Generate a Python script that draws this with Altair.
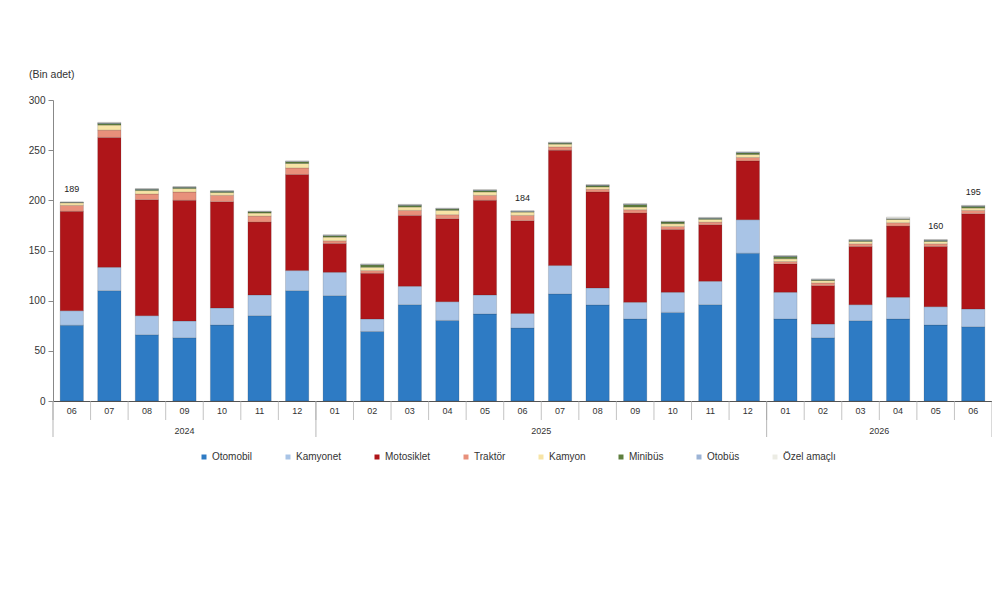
import altair as alt
import pandas as pd

# ---- data (bin adet) ----
months = ["06", "07", "08", "09", "10", "11", "12",
          "01", "02", "03", "04", "05", "06", "07", "08", "09", "10", "11", "12",
          "01", "02", "03", "04", "05", "06"]
years = ["2024"] * 7 + ["2025"] * 12 + ["2026"] * 6

otomobil   = [75.5, 110.0, 66.0, 63.0, 75.7, 85.0, 110.0, 105.0, 69.3, 96.0, 80.3, 86.7, 72.7,
              106.7, 95.7, 81.7, 88.3, 96.0, 147.3, 81.7, 63.0, 80.0, 81.7, 75.7, 74.0]
kamyonet   = [14.5, 23.3, 19.0, 16.7, 17.0, 20.7, 20.0, 23.3, 12.4, 18.3, 18.7, 19.0, 14.6,
              28.3, 17.0, 16.6, 20.0, 23.3, 33.4, 26.6, 13.7, 16.0, 21.6, 18.3, 17.7]
motosiklet = [99.0, 129.4, 115.7, 120.3, 106.0, 72.6, 95.7, 28.7, 45.6, 70.7, 82.7, 94.3, 92.4,
              115.0, 95.6, 89.0, 62.7, 56.4, 58.6, 28.4, 38.3, 58.0, 71.0, 60.0, 95.0]
traktor    = [6.0, 7.3, 5.6, 8.3, 6.3, 6.0, 6.6, 2.7, 2.7, 5.0, 4.0, 5.0, 5.3,
              3.3, 2.7, 3.4, 3.0, 2.6, 3.4, 2.3, 2.7, 2.7, 3.4, 2.7, 3.3]
kamyon     = [2.5, 5.0, 3.4, 3.4, 2.7, 3.0, 4.4, 3.6, 3.3, 3.3, 4.3, 3.3, 3.3,
              2.7, 2.3, 2.6, 2.7, 2.7, 3.0, 2.7, 2.3, 2.3, 3.3, 2.3, 2.3]
minibus    = [0.4, 1.6, 1.2, 1.2, 1.2, 1.2, 1.6, 1.4, 2.2, 1.7, 1.3, 1.4, 0.4,
              1.0, 1.4, 2.4, 1.6, 1.0, 1.6, 2.3, 0.7, 1.0, 0.3, 1.0, 1.7]
otobus     = [0.2, 0.5, 0.4, 0.4, 0.4, 0.4, 0.5, 0.5, 0.6, 0.5, 0.5, 0.5, 0.5,
              0.5, 0.5, 0.5, 0.5, 0.5, 0.5, 0.5, 0.5, 0.5, 0.5, 0.5, 0.5]
ozel       = [0.2, 0.6, 0.4, 0.4, 0.4, 0.4, 0.5, 0.5, 0.6, 0.5, 0.5, 0.5, 0.5,
              0.5, 0.5, 0.5, 0.5, 0.5, 0.5, 0.5, 0.5, 0.5, 1.5, 0.5, 0.5]

series_names = ["Otomobil", "Kamyonet", "Motosiklet", "Traktör", "Kamyon",
                "Minibüs", "Otobüs", "Özel amaçlı"]
series_values = [otomobil, kamyonet, motosiklet, traktor, kamyon, minibus, otobus, ozel]
colors = ["#2E7BC4", "#A9C4E6", "#AF1519", "#E8907B", "#F7E4A6",
          "#5E7F3E", "#9DB4D6", "#ECECE4"]

label_keys = ["2024-06", "2025-06", "2026-05", "2026-06"]
label_texts = ["189", "184", "160", "195"]

year_names = ["2024", "2025", "2026"]
year_center_keys = ["2024-09", "2025-07", "2026-04"]

unit_text = "(Bin adet)"

# ---- build tables ----
keys = [f"{y}-{m}" for y, m in zip(years, months)]
rows = []
for i, k in enumerate(keys):
    for j, (name, vals) in enumerate(zip(series_names, series_values)):
        rows.append({"key": k, "seri": name, "ord": j, "deger": vals[i]})
df = pd.DataFrame(rows)

totals = {k: sum(v[i] for v in series_values) for i, k in enumerate(keys)}
lab_df = pd.DataFrame({"key": label_keys, "t": label_texts,
                       "tot": [totals[k] for k in label_keys]})

FONT = "Liberation Sans"
W, H = 939, 301
P_IN, P_OUT = 0.38, 0.19
step = W / len(keys)

xscale = alt.Scale(domain=keys, paddingInner=P_IN, paddingOuter=P_OUT)
yscale = alt.Scale(domain=[0, 300], nice=False)

bars = alt.Chart(df).mark_bar(stroke="#222", strokeOpacity=0.3, strokeWidth=0.5).encode(
    x=alt.X("key:N", scale=xscale, sort=keys,
            axis=alt.Axis(title=None, labelExpr="substring(datum.value, 5)",
                          ticks=False, labelPadding=5,
                          labelAngle=0, domainColor="#555",
                          labelFontSize=9, labelColor="#333", labelFont=FONT)),
    y=alt.Y("deger:Q", stack="zero", scale=yscale,
            axis=alt.Axis(title=None, values=[0, 50, 100, 150, 200, 250, 300],
                          tickSize=5, labelPadding=3, grid=False,
                          domainColor="#888", tickColor="#888",
                          labelFontSize=10, labelColor="#333", labelFont=FONT)),
    color=alt.Color("seri:N", scale=alt.Scale(domain=series_names, range=colors),
                    legend=alt.Legend(title=None, orient="none", legendX=146, legendY=352,
                                      direction="horizontal", columnPadding=30,
                                      symbolType="square", symbolSize=25,
                                      symbolStrokeWidth=0, labelFontSize=10,
                                      labelColor="#333", labelFont=FONT, labelLimit=120,
                                      labelOffset=3)),
    order=alt.Order("ord:Q", sort="ascending"),
)

labels = alt.Chart(lab_df).mark_text(fontSize=9, font=FONT, color="#222", dy=-13,
                                     baseline="middle").encode(
    x=alt.X("key:N", scale=xscale, sort=keys),
    y=alt.Y("tot:Q", scale=yscale),
    text="t:N",
)

year_df1 = pd.DataFrame({"key": year_center_keys[:1], "y": year_names[:1]})
year_df2 = pd.DataFrame({"key": year_center_keys[1:], "y": year_names[1:]})
year1 = alt.Chart(year_df1).mark_text(fontSize=9, font=FONT, color="#333",
                                      baseline="middle").encode(
    x=alt.X("key:N", scale=xscale, sort=keys),
    y=alt.value(H + 30), text="y:N")
year2 = alt.Chart(year_df2).mark_text(fontSize=9, font=FONT, color="#333",
                                      baseline="middle", dx=-(step / 2)).encode(
    x=alt.X("key:N", scale=xscale, sort=keys),
    y=alt.value(H + 30), text="y:N")

# month dividers (short) and year separators (long), placed midway between bars
div_df = pd.DataFrame({"key": keys})
dividers = alt.Chart(div_df).mark_tick(color="#aaa", thickness=1, size=19,
                                       orient="vertical", yOffset=9.5,
                                       xOffset=-(step / 2)).encode(
    x=alt.X("key:N", scale=xscale, sort=keys),
    y=alt.value(H))

sep_df = pd.DataFrame({"key": ["2024-06", "2025-01", "2026-01"]})
seps = alt.Chart(sep_df).mark_tick(color="#999", thickness=1, size=36,
                                   orient="vertical", yOffset=18,
                                   xOffset=-(step / 2)).encode(
    x=alt.X("key:N", scale=xscale, sort=keys),
    y=alt.value(H))
sep_end = alt.Chart(pd.DataFrame({"key": ["2026-06"]})).mark_tick(
    color="#999", thickness=1, size=36, orient="vertical", yOffset=18,
    xOffset=(step / 2)).encode(
    x=alt.X("key:N", scale=xscale, sort=keys),
    y=alt.value(H))

unit = alt.Chart(pd.DataFrame({"t": [unit_text]})).mark_text(
    align="left", baseline="middle", fontSize=10.5, font=FONT, color="#333").encode(
    x=alt.value(-24), y=alt.value(-25), text="t:N")

chart = alt.layer(bars, labels, year1, year2, dividers, seps, sep_end, unit).properties(
    width=W, height=H,
    autosize=alt.AutoSizeParams(type="none"),
    padding={"left": 45, "top": 92, "right": 0, "bottom": 80},
).configure_view(stroke=None)

chart.save("out.html", embed_options={"renderer": "svg", "actions": False})
